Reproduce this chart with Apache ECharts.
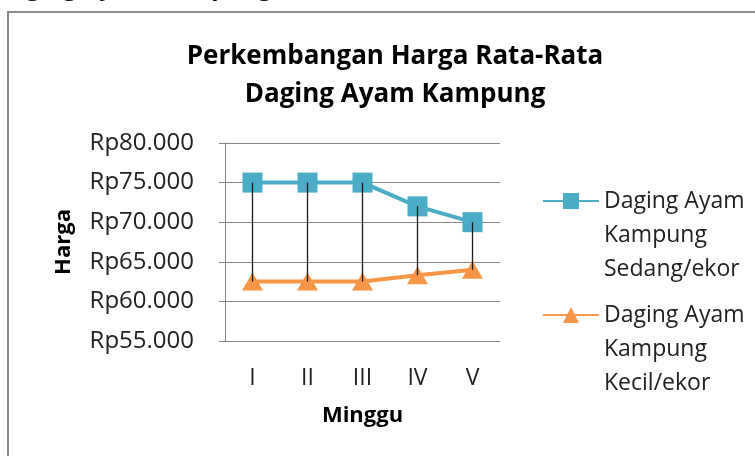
<!DOCTYPE html>
<html>
<head>
<meta charset="utf-8">
<script src="https://cdn.jsdelivr.net/npm/echarts@6/dist/echarts.min.js"></script>
<style>
  html, body { margin: 0; padding: 0; background: #fff; }
  #chart { width: 755px; height: 456px; }
</style>
</head>
<body>
<div id="chart"></div>
<script>
const minggu = ['I', 'II', 'III', 'IV', 'V']
const sedang = [75000, 75000, 75000, 72000, 70000]
const kecil = [62500, 62500, 62500, 63300, 64000]
const seriesNames = ['Daging Ayam Kampung Sedang/ekor', 'Daging Ayam Kampung Kecil/ekor']

const font = '"Open Sans", "Noto Sans", sans-serif'
const chart = echarts.init(document.getElementById('chart'))

const fmtRp = (v) => 'Rp' + (v / 1000).toFixed(0) + '.000'
// 3 lines, two empty lines in front so the first line sits level with the icon
const legendText = (name) => '\n\n' + name.replace('Ayam Kampung', 'Ayam\nKampung').replace('Kampung ', 'Kampung\n')

const option = {
  animation: false,
  backgroundColor: '#fff',
  title: {
    text: 'Perkembangan Harga Rata-Rata\nDaging Ayam Kampung',
    left: 390,
    top: 33,
    textAlign: 'center',
    textStyle: { fontFamily: font, fontSize: 26, fontWeight: 'bold', color: '#000', lineHeight: 38 }
  },
  graphic: [
    {
      type: 'rect',
      shape: { x: 8, y: 12, width: 780, height: 480 },
      style: { fill: 'none', stroke: '#8a8a8a', lineWidth: 2 }
    },
    {
      type: 'text',
      left: -6,
      top: -24,
      style: { text: 'Daging Ayam Kampung', font: 'bold 24px ' + font, fill: '#000' }
    }
  ],
  legend: [0, 1].map((i) => ({
    data: [seriesNames[i]],
    left: 537,
    top: i === 0 ? 111 : 225,
    orient: 'vertical',
    itemWidth: 56,
    itemHeight: 20,
    itemGap: 0,
    selectedMode: false,
    formatter: legendText,
    textStyle: { fontFamily: font, fontSize: 23, color: '#222', lineHeight: 34 }
  })),
  grid: { left: 225, right: 255, top: 143, bottom: 115 },
  xAxis: {
    type: 'category',
    data: minggu,
    boundaryGap: true,
    name: 'Minggu',
    nameLocation: 'middle',
    nameGap: 64,
    nameTextStyle: { fontFamily: font, fontSize: 22, fontWeight: 'bold', color: '#000' },
    axisLine: { lineStyle: { color: '#868686', width: 1 } },
    axisTick: { show: false },
    axisLabel: { fontFamily: font, fontSize: 23, color: '#222', margin: 26 }
  },
  yAxis: {
    type: 'value',
    min: 55000,
    max: 80000,
    interval: 5000,
    name: 'Harga',
    nameLocation: 'middle',
    nameGap: 150,
    nameTextStyle: { fontFamily: font, fontSize: 22, fontWeight: 'bold', color: '#000' },
    axisLine: { show: true, lineStyle: { color: '#868686', width: 1 } },
    axisTick: { show: true, length: 6, lineStyle: { color: '#868686' } },
    splitLine: { lineStyle: { color: '#868686', width: 1 } },
    axisLabel: { fontFamily: font, fontSize: 24, color: '#222', margin: 31, formatter: fmtRp }
  },
  series: [
    {
      name: seriesNames[0],
      type: 'line',
      data: sedang,
      symbol: 'rect',
      symbolSize: 20,
      lineStyle: { color: '#4bacc6', width: 4 },
      itemStyle: { color: '#4bacc6' },
      z: 2
    },
    {
      name: seriesNames[1],
      type: 'line',
      data: kecil,
      symbol: 'triangle',
      symbolSize: [21, 18],
      lineStyle: { color: '#f79646', width: 4 },
      itemStyle: { color: '#f79646' },
      z: 2
    },
    {
      // high-low drop lines between the two series
      type: 'custom',
      data: minggu.map((m, i) => [i, sedang[i], kecil[i]]),
      renderItem: (params, api) => {
        const a = api.coord([api.value(0), api.value(1)])
        const b = api.coord([api.value(0), api.value(2)])
        return {
          type: 'line',
          shape: { x1: a[0], y1: a[1], x2: b[0], y2: b[1] },
          style: { stroke: '#1a1a1a', lineWidth: 1.3 }
        }
      },
      z: 5,
      silent: true
    }
  ]
}

chart.setOption(option)
</script>
</body>
</html>
